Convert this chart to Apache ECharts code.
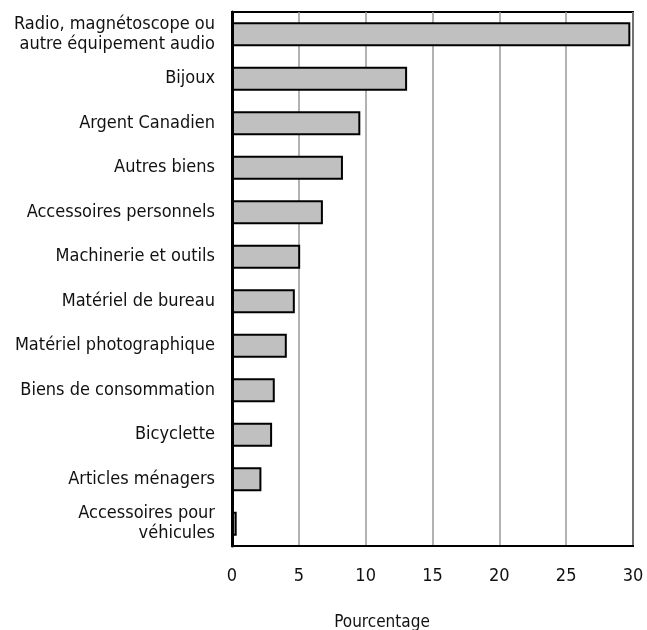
<!DOCTYPE html>
<html>
<head>
<meta charset="utf-8">
<script src="https://cdn.jsdelivr.net/npm/echarts@6/dist/echarts.min.js"></script>
<style>html,body{margin:0;padding:0;background:#fff}#c{width:647px;height:630px}</style>
</head>
<body>
<div id="c"></div>
<script>
const categories = [
  "Radio, magnétoscope ou\nautre équipement audio",
  "Bijoux",
  "Argent Canadien",
  "Autres biens",
  "Accessoires personnels",
  "Machinerie et outils",
  "Matériel de bureau",
  "Matériel photographique",
  "Biens de consommation",
  "Bicyclette",
  "Articles ménagers",
  "Accessoires pour\nvéhicules"
];
const values = [29.8, 13.1, 9.6, 8.3, 6.8, 5.1, 4.7, 4.1, 3.2, 3.0, 2.2, 0.35];
const xTicks = [0, 5, 10, 15, 20, 25, 30];
const axisTitle = "Pourcentage";

const FONT = '"DejaVu Sans Condensed", "Liberation Sans Narrow", Arial, sans-serif';
const chart = echarts.init(document.getElementById('c'), null, {renderer: 'canvas'});
chart.setOption({
  animation: false,
  backgroundColor: '#fff',
  title: {
    text: axisTitle,
    left: 377, top: 609, textAlign: 'center',
    textStyle: {fontFamily: FONT, fontSize: 17, fontWeight: 'normal', color: '#111'}
  },
  grid: {
    left: 232, right: 14, top: 12, bottom: 84,
    show: true, borderColor: '#000', borderWidth: 2, backgroundColor: 'transparent'
  },
  xAxis: {
    type: 'value', min: xTicks[0], max: xTicks[xTicks.length - 1], interval: 5,
    axisLine: {show: true, lineStyle: {color: '#000', width: 2}},
    axisTick: {show: false},
    axisLabel: {fontFamily: FONT, fontSize: 18, color: '#111', margin: 21},
    splitLine: {show: true, lineStyle: {color: '#999', width: 1.5}}
  },
  yAxis: {
    type: 'category', data: categories, inverse: true,
    axisLine: {show: true, lineStyle: {color: '#000', width: 3}},
    axisTick: {show: false},
    axisLabel: {fontFamily: FONT, fontSize: 18, color: '#111', margin: 17, lineHeight: 20, align: 'right'}
  },
  series: [{
    type: 'bar', data: values, barWidth: '54%',
    itemStyle: {color: '#c0c0c0', borderColor: '#000', borderWidth: 2}
  }]
});
</script>
</body>
</html>
